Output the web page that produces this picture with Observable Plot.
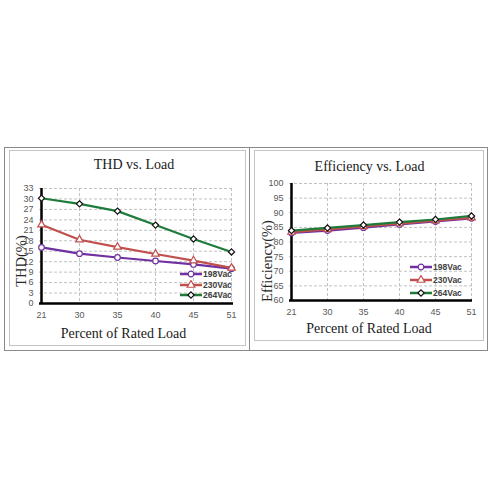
<!DOCTYPE html>
<html>
<head>
<meta charset="utf-8">
<script src="https://cdn.jsdelivr.net/npm/d3@7"></script>
<script src="https://cdn.jsdelivr.net/npm/@observablehq/plot@0.6"></script>
<style>
  body { margin: 0; background: #fff; }
  #page { position: relative; width: 500px; height: 500px; overflow: hidden; }
  .box { position: absolute; box-sizing: border-box; }
  .txt { position: absolute; transform: translate(-50%, -50%); white-space: nowrap;
         font: 14px "Liberation Serif", "Times New Roman", serif; color: #1a1a1a; }
  .txt.rot { transform: translate(-50%, -50%) rotate(-90deg); font-size: 14.5px; color: #262626; }
  .plt { position: absolute; }
  .leg { position: absolute; font: bold 8.5px "Liberation Sans", sans-serif; color: #404040; }
  .leg .row { display: flex; align-items: center; }
  .leg svg { margin-right: 1px; }
</style>
</head>
<body>
<div id="page"></div>
<script>
// categories and series
const loads = ["21", "30", "35", "40", "45", "51"];
const seriesNames = ["198Vac", "230Vac", "264Vac"];

const thd198 = [16.1, 14.3, 13.2, 12.2, 11.2, 10.0];
const thd230 = [22.6, 18.3, 16.2, 14.2, 12.3, 10.2];
const thd264 = [30.2, 28.6, 26.5, 22.5, 18.5, 14.8];

const eff198 = [83.1, 83.9, 84.9, 86.0, 87.0, 88.1];
const eff230 = [83.4, 84.3, 85.3, 86.3, 87.3, 88.3];
const eff264 = [83.9, 84.8, 85.8, 86.8, 87.7, 88.9];

const thdTicks = [0, 3, 6, 9, 12, 15, 18, 21, 24, 27, 30, 33];
const effTicks = [60, 65, 70, 75, 80, 85, 90, 95, 100];

// styles
const colors = ["#7030a0", "#c0504d", "#1e7b3a"];
const markerStroke = ["#7030a0", "#c0504d", "#111"];
const symbols = ["circle", "triangle", "diamond2"];
const d3symbols = [d3.symbolCircle, d3.symbolTriangle, d3.symbolDiamond2];

const page = document.getElementById("page");

function box(l, t, w, h, css) {
  const d = document.createElement("div");
  d.className = "box";
  Object.assign(d.style, {left: l + "px", top: t + "px", width: w + "px", height: h + "px"}, css);
  page.appendChild(d);
}

function label(text, cx, cy, cls) {
  const d = document.createElement("div");
  d.className = "txt" + (cls ? " " + cls : "");
  d.textContent = text;
  d.style.left = cx + "px";
  d.style.top = cy + "px";
  page.appendChild(d);
}

function chart(o) {
  const marks = [
    Plot.ruleY(o.ticks, {stroke: "#b3b3b3", strokeWidth: 0.8, strokeDasharray: "3,2"}),
    Plot.ruleX(loads, {stroke: "#b3b3b3", strokeWidth: 0.8, strokeDasharray: "3,2"}),
    Plot.ruleX([loads[0]], {stroke: "#000", strokeWidth: 2.5}),
    Plot.ruleY([o.ticks[0]], {stroke: "#000", strokeWidth: 2.5})
  ];
  o.series.forEach((vals, s) => {
    const rows = vals.map((v, i) => ({load: loads[i], value: v}));
    marks.push(Plot.line(rows, {x: "load", y: "value", stroke: colors[s], strokeWidth: 2.2}));
  });
  o.series.forEach((vals, s) => {
    const rows = vals.map((v, i) => ({load: loads[i], value: v}));
    marks.push(Plot.dot(rows, {x: "load", y: "value", symbol: symbols[s], r: 2.8,
      fill: "white", stroke: markerStroke[s], strokeWidth: 1.2}));
  });

  const svg = Plot.plot({
    width: o.width,
    height: o.height,
    marginLeft: o.marginLeft,
    marginRight: o.marginRight,
    marginTop: o.marginTop,
    marginBottom: 20,
    style: {fontFamily: "Liberation Sans, sans-serif", fontSize: "9px",
            color: "#595959", background: "transparent", overflow: "visible"},
    x: {type: "point", domain: loads, padding: 0, label: null, tickSize: 0, tickPadding: 8},
    y: {domain: [o.ticks[0], o.ticks[o.ticks.length - 1]], ticks: o.ticks, label: null,
        tickSize: 0, tickPadding: 6},
    marks
  });
  svg.classList.add("plt");
  svg.style.left = o.left + "px";
  svg.style.top = o.top + "px";
  page.appendChild(svg);
}

function legend(left, top, rowH) {
  const div = d3.select(page).append("div").attr("class", "leg")
    .style("left", left + "px").style("top", top + "px");
  seriesNames.forEach((name, s) => {
    const row = div.append("div").attr("class", "row").style("height", rowH + "px");
    const svg = row.append("svg").attr("width", 22).attr("height", 10);
    svg.append("line").attr("x1", 0).attr("x2", 22).attr("y1", 5).attr("y2", 5)
      .attr("stroke", colors[s]).attr("stroke-width", 2.5);
    svg.append("path").attr("transform", "translate(11,5)")
      .attr("d", d3.symbol(d3symbols[s], 26)())
      .attr("fill", "white").attr("stroke", markerStroke[s]).attr("stroke-width", 1.2);
    row.append("span").text(name);
  });
}

// frames
box(4, 147, 484, 204, {border: "1px solid #8a8a8a"});
box(249, 147, 1, 204, {background: "#8a8a8a"});
box(9, 150, 237, 196, {border: "1px solid #c4c4c4"});
box(254, 150, 230, 191, {border: "1px solid #c4c4c4"});

// THD panel
label("THD vs. Load", 134, 165);
chart({series: [thd198, thd230, thd264], ticks: thdTicks,
  left: 9, top: 175, width: 236, height: 148,
  marginLeft: 30, marginRight: 12, marginTop: 13});
label("THD(%)", 20.5, 261, "rot");
label("Percent of Rated Load", 123.5, 334);
legend(180, 269, 10.5);

// Efficiency panel
label("Efficiency vs. Load", 369.5, 166.7);
chart({series: [eff198, eff230, eff264], ticks: effTicks,
  left: 254, top: 172, width: 229, height: 148,
  marginLeft: 35, marginRight: 11, marginTop: 11});
label("Efficiency(%)", 267, 261, "rot");
label("Percent of Rated Load", 369, 329.3);
legend(410, 260, 13.3);
</script>
</body>
</html>
